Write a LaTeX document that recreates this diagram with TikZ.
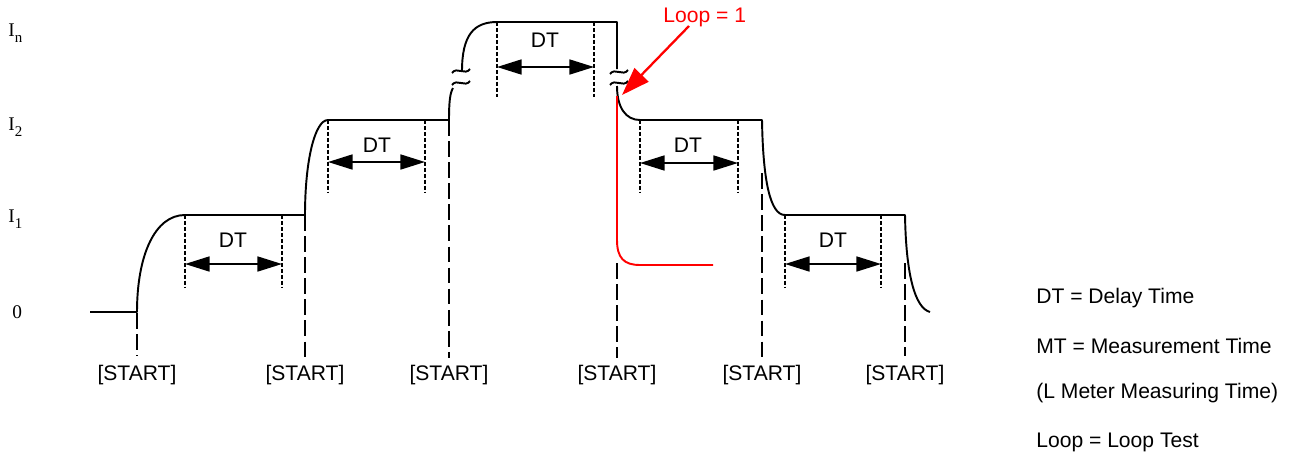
\documentclass[tikz,border=0pt]{standalone}
\usepackage{fontspec}
\setmainfont{Liberation Sans}
\newfontfamily\levelfont{Liberation Serif}
\usetikzlibrary{arrows.meta}

\newcommand{\levelsub}[1]{I\raisebox{-3.5pt}{\fontsize{8.5}{9}\selectfont #1}}

\begin{document}
\begin{tikzpicture}[x=0.02cm, y=-0.02cm,
  wave/.style={line width=1.1pt, line join=round},
  startline/.style={line width=1.1pt, dash pattern=on 9pt off 3pt},
  dtline/.style={line width=0.8pt, dash pattern=on 2.2pt off 1.2pt},
  dtarrow/.style={line width=1.1pt, {Triangle[length=14pt,width=8.5pt]}-{Triangle[length=14pt,width=8.5pt]}},
  every node/.style={font=\fontsize{12}{14}\selectfont, inner sep=0pt},
  lvl/.style={font=\levelfont\fontsize{11}{13}\selectfont, anchor=base west}]

\useasboundingbox (0,0) rectangle (1304,457);

% Niveles
\node[lvl] (lvln) at (8,36) {\levelsub{n}};
\node[lvl] (lvl2) at (8,130) {\levelsub{2}};
\node[lvl] (lvl1) at (8,222) {\levelsub{1}};
\node[lvl] (lvl0) at (12,318) {0};

% Escalon I1
\draw[wave] (90,312) -- (137,312) .. controls (137,255) and (155,215) .. (185,215) -- (305,215);
\draw[dtline] (185,215) -- (185,288);
\draw[dtline] (282,215) -- (282,288);
\draw[dtarrow] (185,264) -- (282,264);
\node[anchor=base] (dt1) at (233,247) {DT};

% Escalon I2
\draw[wave] (305,215) .. controls (305,160) and (315,120) .. (328,120) -- (449,120);
\draw[dtline] (328,120) -- (328,193);
\draw[dtline] (425,120) -- (425,193);
\draw[dtarrow] (328,162) -- (425,162);
\node[anchor=base] (dt2) at (377,152) {DT};

% Escalon In (con corte)
\draw[wave] (449,120) .. controls (449,102) and (450,93) .. (453,88);
\draw[wave] (452,85) .. controls (457,78) and (465,88) .. (470,81);
\draw[wave] (452,73) .. controls (457,66) and (465,76) .. (470,69);
\draw[wave] (462,71) .. controls (462,35) and (474,22) .. (497,22) -- (617,22) -- (617,69);
\draw[dtline] (497,22) -- (497,97);
\draw[dtline] (594,22) -- (594,97);
\draw[dtarrow] (497,67) -- (594,67);
\node[anchor=base] (dt3) at (545,47) {DT};

% Bajada (con corte)
\draw[wave] (610,74) .. controls (615,67) and (623,77) .. (628,70);
\draw[wave] (610,85) .. controls (615,78) and (623,88) .. (628,81);
\draw[wave] (617,86) .. controls (617,108) and (626,120) .. (640,120) -- (762,120)
  .. controls (763,180) and (770,215) .. (785,215) -- (905,215)
  .. controls (906,275) and (915,308) .. (930,312);
\draw[dtline] (640,120) -- (640,193);
\draw[dtline] (738,120) -- (738,193);
\draw[dtarrow] (640,163) -- (738,163);
\node[anchor=base] (dt4) at (688,152) {DT};
\draw[dtline] (785,215) -- (785,288);
\draw[dtline] (881,215) -- (881,288);
\draw[dtarrow] (785,264) -- (881,264);
\node[anchor=base] (dt5) at (833,247) {DT};

% Loop = 1
\draw[red, line width=1.1pt] (617,96) -- (617,240) .. controls (617,258) and (624,265) .. (640,265) -- (713,265);
\node[anchor=base west, text=red] (loop) at (663,22) {Loop = 1};
\coordinate (looptail) at (689,26);
\coordinate (looptip) at (622,95);
\draw[red, line width=1.3pt, -{Triangle[length=16pt,width=11pt]}] (looptail) -- (looptip);

% START
\draw[startline] (137,313) -- (137,356);
\draw[startline] (305,215) -- (305,358);
\draw[startline] (449,120) -- (449,358);
\draw[startline] (617,263) -- (617,358);
\draw[startline] (762,173) -- (762,358);
\draw[startline] (905,263) -- (905,356);
\node[anchor=base] (s1) at (137,380) {[START]};
\node[anchor=base] (s2) at (305,380) {[START]};
\node[anchor=base] (s3) at (449,380) {[START]};
\node[anchor=base] (s4) at (617,380) {[START]};
\node[anchor=base] (s5) at (762,380) {[START]};
\node[anchor=base] (s6) at (905,380) {[START]};

% Leyenda
\node[anchor=base west] (key1) at (1036,303) {DT = Delay Time};
\node[anchor=base west] (key2) at (1036,353) {MT = Measurement Time};
\node[anchor=base west] (key3) at (1036,398) {(L Meter Measuring Time)};
\node[anchor=base west] (key4) at (1036,447) {Loop = Loop Test};
\end{tikzpicture}
\end{document}
